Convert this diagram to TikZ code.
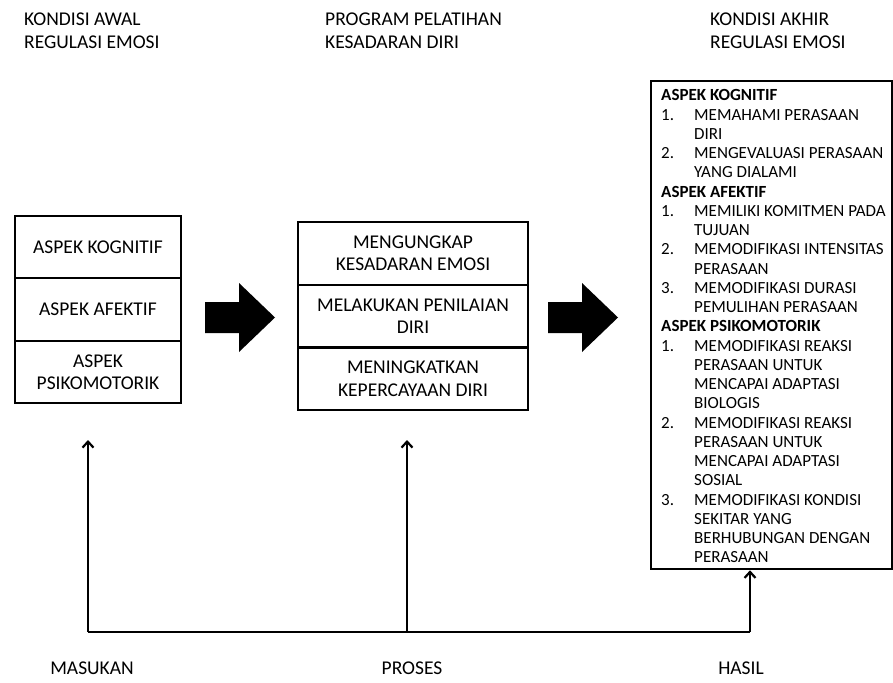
\documentclass[tikz,border=0pt]{standalone}
\usepackage{fontspec}
\setmainfont{Carlito}
\usetikzlibrary{arrows.meta}

\tikzset{
  judul/.style={anchor=north west, align=left, inner sep=0pt, font=\fontsize{19.5}{22.5}\selectfont},
  sel/.style={draw, line width=2.3pt, align=center, inner sep=0pt, font=\fontsize{19.5}{22.5}\selectfont},
  garis/.style={line width=2.2pt},
  panah/.style={line width=2.2pt, -{Straight Barb[length=6pt,width=11pt,line width=2.2pt]}},
  blok/.style={fill=black}
}
\newcommand{\nomor}[1]{\makebox[33pt][l]{#1}}
\newcommand{\sisip}{\hspace*{33pt}}

\begin{document}
\begin{tikzpicture}[x=1pt,y=-1pt]
    \useasboundingbox (0,0) rectangle (893,682);

    % judul kolom
    \node[judul] (awal) at (24,13) {KONDISI AWAL\\REGULASI EMOSI};
    \node[judul] (program) at (325,13) {PROGRAM PELATIHAN\\KESADARAN DIRI};
    \node[judul] (akhirjudul) at (710,13) {KONDISI AKHIR\\REGULASI EMOSI};

    % kondisi awal
    \node[sel, minimum width=166pt, minimum height=62.5pt] (kog) at (98,247) {ASPEK KOGNITIF};
    \node[sel, minimum width=166pt, minimum height=62.5pt] (afek) at (98,309.5) {ASPEK AFEKTIF};
    \node[sel, minimum width=166pt, minimum height=62.5pt] (psiko) at (98,372) {ASPEK\\PSIKOMOTORIK};

    % program pelatihan
    \node[sel, minimum width=230pt, minimum height=62.7pt] (ungkap) at (413,253.3) {MENGUNGKAP\\KESADARAN EMOSI};
    \node[sel, minimum width=230pt, minimum height=62.7pt] (nilai) at (413,316) {MELAKUKAN PENILAIAN\\DIRI};
    \node[sel, minimum width=230pt, minimum height=62.7pt] (percaya) at (413,378.7) {MENINGKATKAN\\KEPERCAYAAN DIRI};

    % panah blok
    \fill[blok] (205,302) -- (239,302) -- (239,283) -- (275,317.5) -- (239,352) -- (239,333) -- (205,333) -- cycle;
    \fill[blok] (548,302) -- (582,302) -- (582,283) -- (618,317.5) -- (582,352) -- (582,333) -- (548,333) -- cycle;

    % kondisi akhir
    \node[draw, line width=2.3pt, anchor=north west, minimum width=241pt, minimum height=488pt, inner sep=0pt] (akhir) at (650,80) {};
    \node[anchor=north west, align=left, inner sep=0pt, font=\fontsize{17}{19.25}\selectfont] (isiakhir) at (661,89.5) {%
      \textbf{ASPEK KOGNITIF}\\
      \nomor{1.}MEMAHAMI PERASAAN\\
      \sisip DIRI\\
      \nomor{2.}MENGEVALUASI PERASAAN\\
      \sisip YANG DIALAMI\\
      \textbf{ASPEK AFEKTIF}\\
      \nomor{1.}MEMILIKI KOMITMEN PADA\\
      \sisip TUJUAN\\
      \nomor{2.}MEMODIFIKASI INTENSITAS\\
      \sisip PERASAAN\\
      \nomor{3.}MEMODIFIKASI DURASI\\
      \sisip PEMULIHAN PERASAAN\\
      \textbf{ASPEK PSIKOMOTORIK}\\
      \nomor{1.}MEMODIFIKASI REAKSI\\
      \sisip PERASAAN UNTUK\\
      \sisip MENCAPAI ADAPTASI\\
      \sisip BIOLOGIS\\
      \nomor{2.}MEMODIFIKASI REAKSI\\
      \sisip PERASAAN UNTUK\\
      \sisip MENCAPAI ADAPTASI\\
      \sisip SOSIAL\\
      \nomor{3.}MEMODIFIKASI KONDISI\\
      \sisip SEKITAR YANG\\
      \sisip BERHUBUNGAN DENGAN\\
      \sisip PERASAAN};

    % garis bawah dan panah
    \coordinate (kiri) at (88,632);
    \coordinate (tengah) at (407,632);
    \coordinate (kanan) at (750,632);
    \coordinate (ujungkiri) at (88,440);
    \coordinate (ujungtengah) at (407,440);
    \draw[garis] (kiri) -- (kanan);
    \draw[panah] (kiri) -- (ujungkiri);
    \draw[panah] (tengah) -- (ujungtengah);
    \draw[panah] (kanan) -- (kanan |- akhir.south);

    % label bawah
    \node[font=\fontsize{19.5}{22.5}\selectfont, inner sep=0pt] (masukan) at (92,668) {MASUKAN};
    \node[font=\fontsize{19.5}{22.5}\selectfont, inner sep=0pt] (proses) at (412,668) {PROSES};
    \node[font=\fontsize{19.5}{22.5}\selectfont, inner sep=0pt] (hasil) at (741,668) {HASIL};
\end{tikzpicture}
\end{document}
